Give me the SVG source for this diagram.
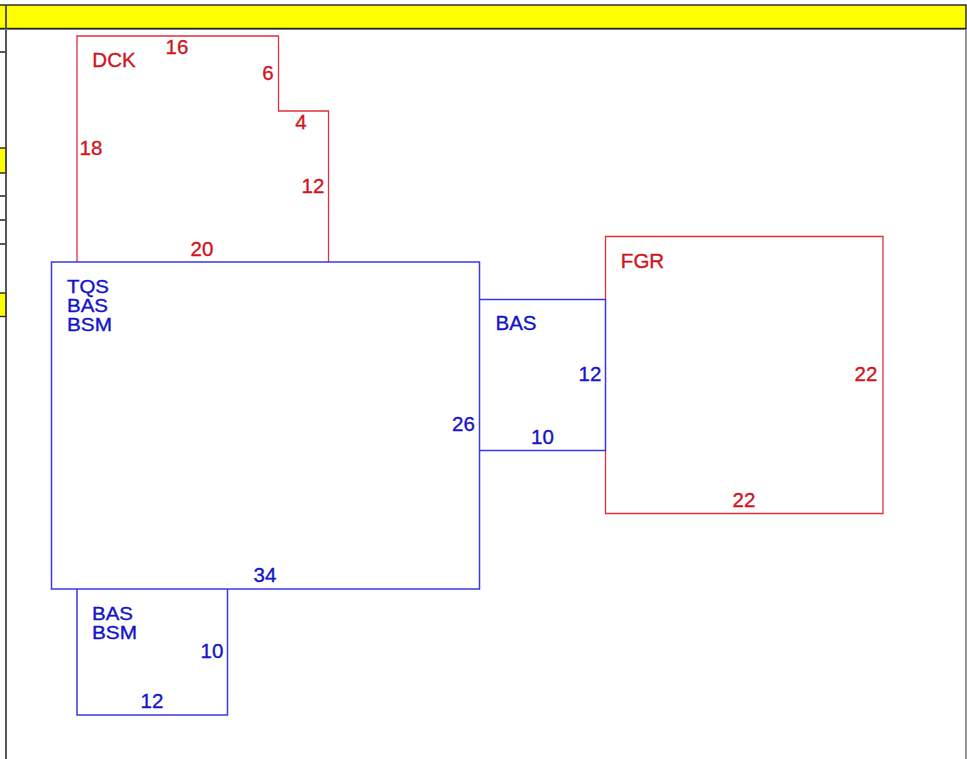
<svg xmlns="http://www.w3.org/2000/svg" width="967" height="759" viewBox="0 0 967 759">
<style>
.red{fill:none;stroke:#e0303a;stroke-width:1.3}
.blue{fill:none;stroke:#3a3ae0;stroke-width:1.5}
.hdr{fill:#ffff00;stroke:#222;stroke-width:1.4}
.r,.b{font-family:"Liberation Sans",Arial,sans-serif;font-size:20.500px;stroke-width:.35}
.r{fill:#d0141e;stroke:#d0141e}
.b{fill:#1414c8;stroke:#1414c8}
.m{text-anchor:middle}
.s{font-size:18px}
</style>
<rect width="967" height="759" fill="#fff"/>
<g id="frame">
<rect x="-3" y="148" width="9" height="25" class="hdr"/>
<rect x="-3" y="293" width="9" height="23.500" class="hdr"/>
<path d="M0 52H6M0 196H6M0 220H6M0 244H6" stroke="#222" stroke-width="1.400" fill="none"/>
<rect x="-3" y="5" width="969" height="23.500" class="hdr"/>
<path d="M6 5V759" stroke="#444" stroke-width="1.800" fill="none"/>
<path d="M966 29V759" stroke="#888" stroke-width="1.800" fill="none"/>
<path d="M0 29.500H966" stroke="#777" stroke-width="1" fill="none"/>
</g>
<g id="dck">
<path class="red" d="M77 262V36H278.500V111H328.500V262"/>
<text class="r m" x="114" y="66.500">DCK</text>
<text class="r m" x="177" y="53.500">16</text>
<text class="r m" x="268" y="79.500">6</text>
<text class="r m" x="301" y="129">4</text>
<text class="r m" x="91" y="154.500">18</text>
<text class="r m" x="313" y="192.500">12</text>
<text class="r m" x="202" y="255.500">20</text>
</g>
<g id="fgr">
<path class="red" d="M605.500 299.500V236.500H883V513.500H605.500V450.500"/>
<text class="r m" x="642.500" y="268">FGR</text>
<text class="r m" x="866" y="381">22</text>
<text class="r m" x="744" y="507">22</text>
</g>
<g id="tqs">
<rect class="blue" x="51.500" y="262" width="428" height="327"/>
<text class="b s" x="67" y="293" textLength="42" lengthAdjust="spacingAndGlyphs">TQS</text>
<text class="b s" x="67" y="312" textLength="41" lengthAdjust="spacingAndGlyphs">BAS</text>
<text class="b s" x="67" y="331" textLength="45" lengthAdjust="spacingAndGlyphs">BSM</text>
<text class="b m" x="463.500" y="431">26</text>
<text class="b m" x="265" y="582">34</text>
</g>
<g id="bas">
<path class="blue" d="M479.500 299.500H605.500V450.500H479.500"/>
<text class="b m" x="516" y="330">BAS</text>
<text class="b m" x="590" y="381">12</text>
<text class="b m" x="542.500" y="444">10</text>
</g>
<g id="bsm">
<path class="blue" d="M77 589V715H227.500V589"/>
<text class="b s" x="92" y="620" textLength="41" lengthAdjust="spacingAndGlyphs">BAS</text>
<text class="b s" x="92" y="639" textLength="45" lengthAdjust="spacingAndGlyphs">BSM</text>
<text class="b m" x="212" y="658">10</text>
<text class="b m" x="152" y="708">12</text>
</g>
<g id="connectors"/>
</svg>
